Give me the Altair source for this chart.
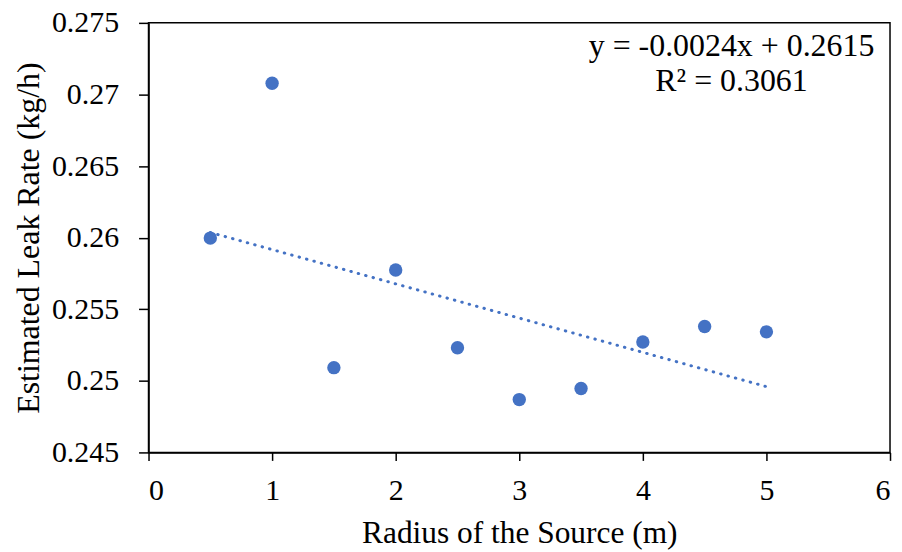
import altair as alt
import pandas as pd

radius = [0.5, 1.0, 1.5, 2.0, 2.5, 3.0, 3.5, 4.0, 4.5, 5.0]
leak_rate = [0.25997, 0.27078, 0.25092, 0.25774, 0.25231, 0.24869, 0.24946, 0.25271, 0.25379, 0.25342]
eq_lines = ["y = -0.0024x + 0.2615", "R² = 0.3061"]

df = pd.DataFrame({"radius": radius, "rate": leak_rate})
FONT = "Liberation Serif"
BLUE = "#4472C4"

xs = alt.Scale(domain=[0, 6], nice=False, zero=False)
ys = alt.Scale(domain=[0.245, 0.275], nice=False, zero=False)

xax = alt.Axis(values=[0, 1, 2, 3, 4, 5, 6], format="d", grid=False,
               title="Radius of the Source (m)", tickSize=8, labelPadding=15,
               titlePadding=12, titleFontSize=31.5)
yax = alt.Axis(values=[0.245, 0.25, 0.255, 0.26, 0.265, 0.27, 0.275], grid=False,
               format="~g", title="Estimated Leak Rate (kg/h)", tickSize=10,
               labelPadding=20, titlePadding=6, titleFontSize=32)

pts = alt.Chart(df).mark_circle(size=180, color=BLUE, opacity=1).encode(
    x=alt.X("radius:Q", scale=xs, axis=xax),
    y=alt.Y("rate:Q", scale=ys, axis=yax),
)

trend = alt.Chart(df).transform_regression(
    "radius", "rate", method="linear", extent=[0.5, 5]
).mark_line(color=BLUE, strokeWidth=3, strokeDash=[0.5, 7.2], strokeCap="round").encode(
    x=alt.X("radius:Q", scale=xs, axis=xax),
    y=alt.Y("rate:Q", scale=ys, axis=yax),
)

eq_df = pd.DataFrame({"t": eq_lines, "i": [0, 1]})

def eq_text(i, ypix):
    return alt.Chart(eq_df).transform_filter(alt.datum.i == i).mark_text(
        font=FONT, fontSize=32, align="center", baseline="alphabetic", color="black"
    ).encode(text="t:N", x=alt.value(585), y=alt.value(ypix))

chart = alt.layer(trend, pts, eq_text(0, 33), eq_text(1, 68)).properties(
    width=744, height=431,
    autosize=alt.AutoSizeParams(type="none"),
    padding={"left": 141, "top": 14, "right": 4, "bottom": 98},
    background="white",
).configure_view(stroke="black", strokeWidth=1.5).configure_axis(
    labelFont=FONT, titleFont=FONT, labelFontSize=30, titleFontSize=30,
    labelColor="black", titleColor="black", domainColor="black",
    tickColor="black", domainWidth=1.5, tickWidth=1.5, titleFontWeight="normal",
)

chart.save("out.html", embed_options={"renderer": "svg", "actions": False})
